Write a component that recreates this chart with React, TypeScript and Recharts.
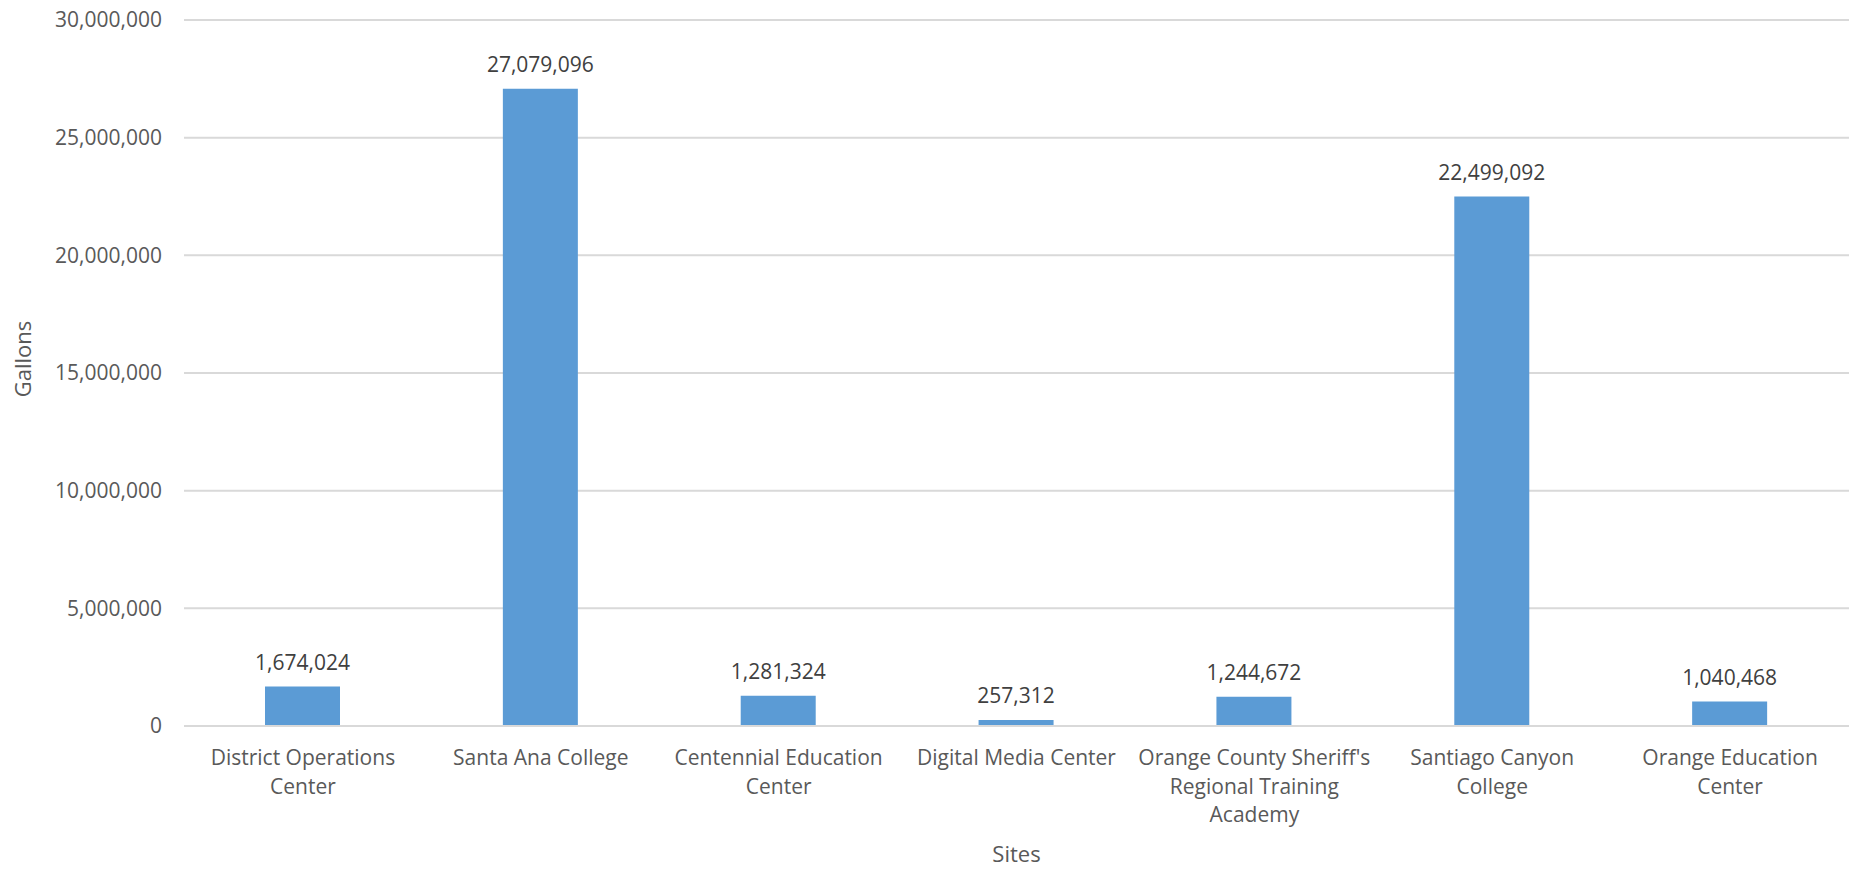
import { Bar, BarChart, CartesianGrid, LabelList, XAxis, YAxis } from "recharts";

const sites = [
  "District Operations Center",
  "Santa Ana College",
  "Centennial Education Center",
  "Digital Media Center",
  "Orange County Sheriff's Regional Training Academy",
  "Santiago Canyon College",
  "Orange Education Center",
];

// how the site names wrap under the axis
const siteLines = [
  ["District Operations", "Center"],
  ["Santa Ana College"],
  ["Centennial Education", "Center"],
  ["Digital Media Center"],
  ["Orange County Sheriff's", "Regional Training", "Academy"],
  ["Santiago Canyon", "College"],
  ["Orange Education", "Center"],
];

const gallons = [1674024, 27079096, 1281324, 257312, 1244672, 22499092, 1040468];

const yTicks = [0, 5000000, 10000000, 15000000, 20000000, 25000000, 30000000];

const data = sites.map((site, i) => ({ site, gallons: gallons[i] }));

const FONT = "'Open Sans', 'Noto Sans', sans-serif";
const fmt = (v: number) => v.toLocaleString("en-US");

function SiteTick({ x, y, index }: any) {
  const lines = siteLines[index] ?? [];
  return (
    <text x={x} y={y} textAnchor="middle" fill="#595959" fontSize={21} fontFamily={FONT}>
      {lines.map((l, i) => (
        <tspan key={i} x={x} dy={i === 0 ? 31 : 28.5}>
          {l}
        </tspan>
      ))}
    </text>
  );
}

export default function App() {
  return (
    <div style={{ position: "absolute", left: 0, top: 0, width: 1864, height: 870, background: "#fff" }}>
      <BarChart
        width={1864}
        height={870}
        data={data}
        margin={{ top: 20, right: 15, bottom: 0, left: 0 }}
      >
        <CartesianGrid vertical={false} stroke="#d9d9d9" strokeWidth={2} />
        <XAxis
          dataKey="site"
          height={144}
          tickLine={false}
          axisLine={{ stroke: "#d9d9d9", strokeWidth: 2 }}
          tick={<SiteTick />}
          interval={0}
          label={{
            content: ({ viewBox }: any) => (
              <text
                x={viewBox.x + viewBox.width / 2}
                y={862}
                textAnchor="middle"
                fill="#595959"
                fontSize={22}
                fontFamily={FONT}
              >
                Sites
              </text>
            ),
          }}
        />
        <YAxis
          width={184}
          domain={[0, 30000000]}
          ticks={yTicks}
          tickFormatter={fmt}
          tickLine={false}
          axisLine={false}
          tickSize={10}
          tickMargin={12}
          tick={{ fill: "#595959", fontSize: 21, fontFamily: FONT }}
          label={{
            content: ({ viewBox }: any) => {
              const cy = viewBox.y + viewBox.height / 2 - 14;
              return (
                <text
                  x={22}
                  y={cy}
                  transform={`rotate(-90, 22, ${cy})`}
                  textAnchor="middle"
                  dominantBaseline="central"
                  fill="#595959"
                  fontSize={22}
                  fontFamily={FONT}
                >
                  Gallons
                </text>
              );
            },
          }}
        />
        <Bar dataKey="gallons" fill="#5b9bd5" barSize={75} isAnimationActive={false}>
          <LabelList
            dataKey="gallons"
            position="top"
            offset={17}
            formatter={fmt}
            fill="#404040"
            fontSize={21}
            fontFamily={FONT}
          />
        </Bar>
      </BarChart>
    </div>
  );
}
